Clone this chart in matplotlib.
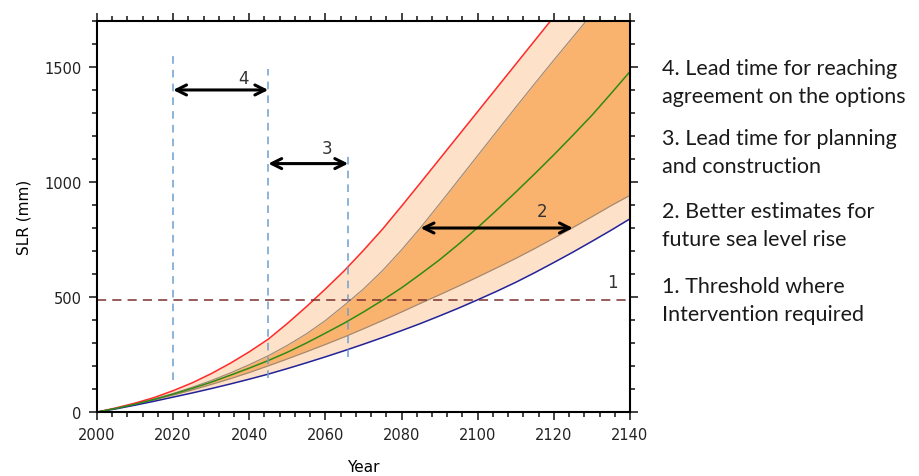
import matplotlib.pyplot as plt
import numpy as np
from matplotlib.ticker import MultipleLocator

# Sea level rise projections (mm), every 5 years
years = list(range(2000, 2141, 5))
slr_high = [0, 18, 39, 63, 93, 127, 167, 212, 262, 317, 385, 458, 535, 615, 703,
            795, 895, 997, 1100, 1203, 1306, 1409, 1512, 1615, 1718, 1821, 1924, 2027, 2130]
slr_upper = [0, 17, 36, 57, 81, 108, 137, 170, 206, 245, 290, 340, 398, 465, 535,
             615, 705, 802, 905, 1010, 1115, 1220, 1325, 1428, 1530, 1630, 1730, 1830, 1930]
slr_mid = [0, 16, 34, 55, 78, 103, 130, 160, 191, 224, 260, 300, 343, 387, 435,
           486, 540, 600, 662, 730, 802, 878, 956, 1036, 1118, 1203, 1290, 1384, 1480]
slr_lower = [0, 16, 34, 53, 74, 96, 120, 145, 172, 201, 231, 262, 294, 327, 362,
             398, 435, 473, 510, 548, 587, 627, 668, 711, 756, 802, 849, 897, 942]
slr_low = [0, 14, 30, 47, 65, 83, 102, 122, 143, 165, 189, 214, 240, 267, 295,
           324, 354, 385, 418, 452, 488, 525, 564, 606, 650, 695, 742, 790, 840]

threshold = 488

# decision lines: (year, bottom, top)
vlines = [(2020, 140, 1560), (2045, 150, 1490), (2066, 240, 1120)]
# arrows: (start, end, level, label, label_x, label_y)
arrows = [(2020, 2045, 1400, "4", 2038.5, 1450),
          (2045, 2066, 1080, "3", 2060.3, 1148),
          (2085, 2125, 800, "2", 2117, 874)]

notes = ["4. Lead time for reaching\nagreement on the options",
         "3. Lead time for planning\nand construction",
         "2. Better estimates for\nfuture sea level rise",
         "1. Threshold where\nIntervention required"]

fig = plt.figure(figsize=(9.19, 4.77), dpi=100)
ax = fig.add_axes([0.1055, 0.134, 0.58, 0.82])

ax.fill_between(years, slr_low, slr_high, color="#fde1c8", lw=0)
ax.fill_between(years, slr_lower, slr_upper, color="#f9b36e", lw=0)
ax.plot(years, slr_upper, color="#9c8878", lw=0.8)
ax.plot(years, slr_lower, color="#9c8878", lw=0.8)
ax.plot(years, slr_high, color="#ff2a2a", lw=1.1)
ax.plot(years, slr_low, color="#22229a", lw=1.1)
ax.plot(years, slr_mid, color="#2f8a18", lw=1.1)

ax.axhline(threshold, color="#7a3030", lw=1.1, ls=(0, (6, 4)))
for x, y0, y1 in vlines:
    ax.plot([x, x], [y0, y1], color="#6f9fd0", lw=1.1, ls=(0, (5, 4)))

for x0, x1, y, lab, lx, ly in arrows:
    ax.annotate("", xy=(x1, y), xytext=(x0, y),
                arrowprops=dict(arrowstyle="<->", lw=2.2, color="black",
                                mutation_scale=18, shrinkA=0, shrinkB=0))
    ax.text(lx, ly, lab, fontsize=12, color="#333333", ha="center", va="center")
ax.text(2135.4, 566, "1", fontsize=12, color="#333333", ha="center", va="center")

ax.set_xlim(2000, 2140)
ax.set_ylim(0, 1700)
ax.xaxis.set_major_locator(MultipleLocator(20))
ax.xaxis.set_minor_locator(MultipleLocator(4))
ax.yaxis.set_major_locator(MultipleLocator(500))
ax.yaxis.set_minor_locator(MultipleLocator(100))
ax.tick_params(which="both", direction="out", top=True, right=True,
               labelsize=10.5, colors="#222222", width=1.2)
ax.tick_params(which="major", length=6, pad=5)
ax.tick_params(which="minor", length=3.5)
for s in ax.spines.values():
    s.set_linewidth(1.5)
ax.set_xlabel("Year", fontsize=11, labelpad=12)
ax.set_ylabel("SLR (mm)", fontsize=11, labelpad=9)

ys = [0.826, 0.679, 0.526, 0.369]
for t, y in zip(notes, ys):
    fig.text(0.72, y, t, fontsize=15.5, family="Lato", color="#1a1a1a",
             va="center", linespacing=1.5)

fig.savefig("out.png", dpi=100)
